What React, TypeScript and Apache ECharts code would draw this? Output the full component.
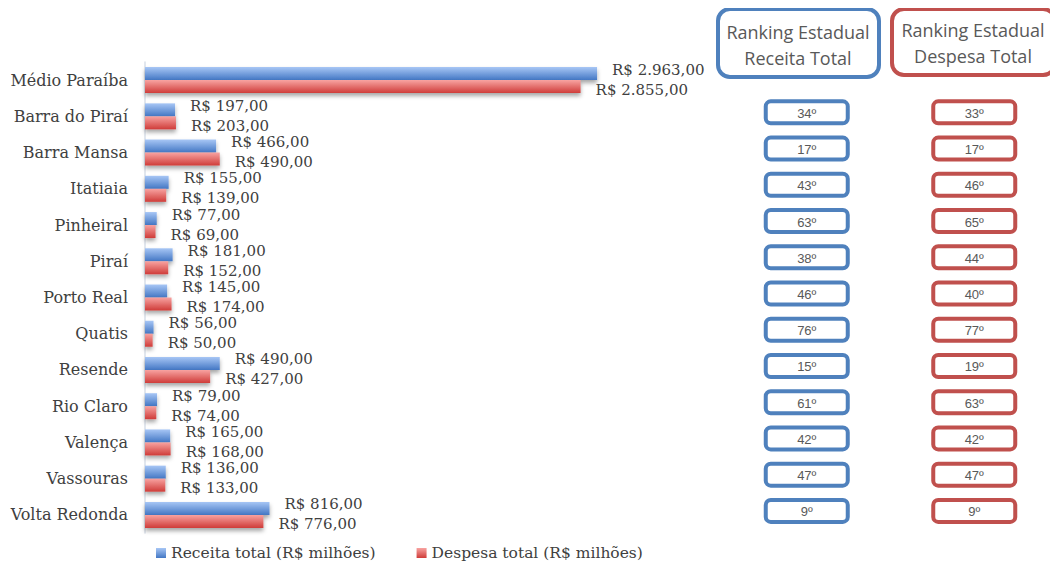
import React, { useEffect, useRef } from "react";
import * as echarts from "echarts";

const categories = [
  "Médio Paraíba", "Barra do Piraí", "Barra Mansa", "Itatiaia", "Pinheiral", "Piraí",
  "Porto Real", "Quatis", "Resende", "Rio Claro", "Valença", "Vassouras", "Volta Redonda",
];
const receita = [2963, 197, 466, 155, 77, 181, 145, 56, 490, 79, 165, 136, 816];
const despesa = [2855, 203, 490, 139, 69, 152, 174, 50, 427, 74, 168, 133, 776];
const rankCategories = categories.slice(1);
const rankReceita = [34, 17, 43, 63, 38, 46, 76, 15, 61, 42, 47, 9];
const rankDespesa = [33, 17, 46, 65, 44, 40, 77, 19, 63, 42, 47, 9];
const rankColumns = ["Receita", "Despesa"];

const BLUE = "#4f81bd";
const RED = "#c0504d";
const SERIF = "DejaVu Serif";
const SANS = "Open Sans";
const TXT = "#404040";

const fmt = (v: number) =>
  "R$ " + v.toLocaleString("pt-BR", { minimumFractionDigits: 2, maximumFractionDigits: 2 });

const rankRender = (color: string) => (params: any, api: any) => {
  const pt = api.coord([api.value(0), api.value(1)]);
  return {
    type: "rect",
    shape: { x: pt[0] - 41, y: pt[1] - 15, width: 82, height: 22, r: 5 },
    style: { fill: "#ffffff", stroke: color, lineWidth: 4 },
    textContent: {
      style: {
        text: api.value(2) + "º",
        fontFamily: "Liberation Sans",
        fontSize: 13,
        fill: "#595959",
      },
    },
    textConfig: { position: "inside", offset: [0, 1] },
  };
};

export default function App() {
  const ref = useRef<HTMLDivElement>(null);
  useEffect(() => {
    if (!ref.current) return;
    const chart = echarts.init(ref.current, null, { renderer: "svg" });
    const blueGrad = new echarts.graphic.LinearGradient(0, 0, 0, 1, [
      { offset: 0, color: "#a7c6f5" },
      { offset: 1, color: "#4377c4" },
    ]);
    const redGrad = new echarts.graphic.LinearGradient(0, 0, 0, 1, [
      { offset: 0, color: "#f8a3a1" },
      { offset: 1, color: "#cf3c39" },
    ]);
    chart.setOption({
      animation: false,
      backgroundColor: "#ffffff",
      textStyle: { fontFamily: SERIF },
      grid: [
        { left: 145, top: 62, height: 471, width: 534 },
        { left: 723, right: 0, top: 62, height: 471 },
      ],
      xAxis: [
        { type: "value", gridIndex: 0, min: 0, max: 3500, show: false },
        { type: "category", gridIndex: 1, data: rankColumns, show: false },
      ],
      yAxis: [
        {
          type: "category",
          gridIndex: 0,
          data: categories,
          inverse: true,
          axisTick: { show: false },
          axisLine: { show: true, lineStyle: { color: "#d9dfe8", width: 1.5 } },
          axisLabel: { fontFamily: SERIF, fontSize: 16, color: TXT, margin: 17 },
        },
        { type: "category", gridIndex: 1, data: categories, inverse: true, show: false },
      ],
      legend: {
        left: 151,
        bottom: 4,
        itemWidth: 10,
        itemHeight: 10,
        itemGap: 41,
        icon: "rect",
        textStyle: { fontFamily: SERIF, fontSize: 15.5, color: TXT },
        data: ["Receita total (R$ milhões)", "Despesa total (R$ milhões)"],
      },
      series: [
        {
          name: "Receita total (R$ milhões)",
          type: "bar",
          xAxisIndex: 0,
          yAxisIndex: 0,
          data: receita,
          barWidth: 13,
          barGap: "0%",
          itemStyle: {
            color: blueGrad,
            shadowColor: "rgba(0,0,0,0.35)",
            shadowBlur: 4,
            shadowOffsetY: 3,
          },
          label: {
            show: true,
            position: "right",
            distance: 15,
            offset: [0, -4],
            formatter: (p: any) => fmt(p.value),
            fontFamily: SERIF,
            fontSize: 15,
            lineHeight: 16,
            color: TXT,
          },
        },
        {
          name: "Despesa total (R$ milhões)",
          type: "bar",
          xAxisIndex: 0,
          yAxisIndex: 0,
          data: despesa,
          barWidth: 13,
          barGap: "0%",
          itemStyle: {
            color: redGrad,
            shadowColor: "rgba(0,0,0,0.35)",
            shadowBlur: 4,
            shadowOffsetY: 3,
          },
          label: {
            show: true,
            position: "right",
            distance: 15,
            offset: [0, 3],
            formatter: (p: any) => fmt(p.value),
            fontFamily: SERIF,
            fontSize: 15,
            lineHeight: 16,
            color: TXT,
          },
        },
        {
          type: "custom",
          xAxisIndex: 1,
          yAxisIndex: 1,
          renderItem: rankRender(BLUE),
          data: rankReceita.map((r, i) => [rankColumns[0], rankCategories[i], r]),
        },
        {
          type: "custom",
          xAxisIndex: 1,
          yAxisIndex: 1,
          renderItem: rankRender(RED),
          data: rankDespesa.map((r, i) => [rankColumns[1], rankCategories[i], r]),
        },
      ],
      graphic: [
        {
          type: "rect",
          shape: { x: 718, y: 9, width: 161, height: 68, r: 12 },
          style: { fill: "#ffffff", stroke: BLUE, lineWidth: 4 },
        },
        {
          type: "text",
          x: 798,
          y: 45,
          style: {
            text: "Ranking Estadual\nReceita Total",
            fontFamily: SANS,
            fontSize: 18,
            lineHeight: 26,
            fill: "#595959",
            align: "center",
            verticalAlign: "middle",
          },
        },
        {
          type: "rect",
          shape: { x: 892, y: 9, width: 163, height: 66, r: 12 },
          style: { fill: "#ffffff", stroke: RED, lineWidth: 4 },
        },
        {
          type: "text",
          x: 973,
          y: 43,
          style: {
            text: "Ranking Estadual\nDespesa Total",
            fontFamily: SANS,
            fontSize: 18,
            lineHeight: 26,
            fill: "#595959",
            align: "center",
            verticalAlign: "middle",
          },
        },
      ],
    });
    return () => chart.dispose();
  }, []);
  return <div ref={ref} style={{ width: 1058, height: 570, margin: -8 }} />;
}
